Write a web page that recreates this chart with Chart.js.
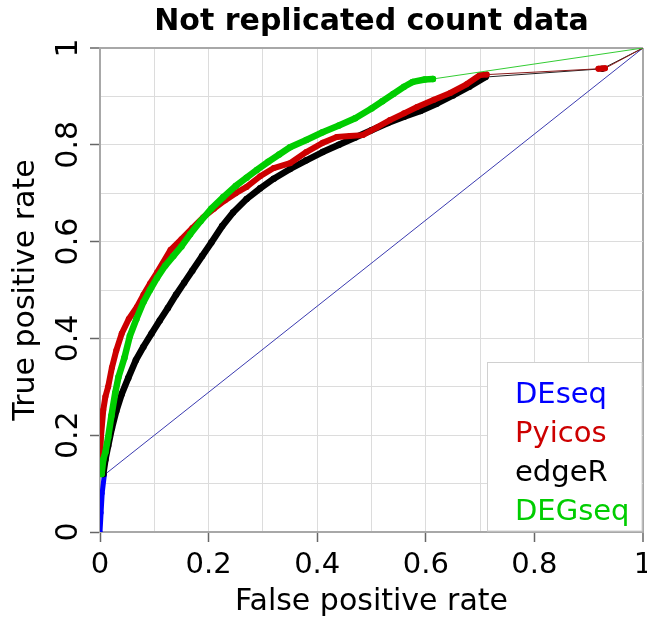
<!DOCTYPE html>
<html>
<head>
<meta charset="utf-8">
<script src="https://cdn.jsdelivr.net/npm/chart.js@4.4.0/dist/chart.umd.min.js"></script>
<style>
  html, body { margin: 0; padding: 0; background: #fff; }
  canvas { display: block; }
</style>
</head>
<body>
<canvas id="rocChart" width="647" height="626"></canvas>
<script>
// ROC curves, values (FPR on x, TPR on y)
const methods = ['DEseq', 'Pyicos', 'edgeR', 'DEGseq'];
const methodColors = ['#0000ff', '#cd0000', '#000000', '#00cd00'];

const deseqFpr = [0, 0.002, 0.004, 0.008, 1];
const deseqTpr = [0, 0.04, 0.08, 0.118, 1];

const edgerFpr = [0.006, 0.01, 0.015, 0.022, 0.03, 0.04, 0.052, 0.066, 0.08, 0.095, 0.11, 0.125, 0.14, 0.155, 0.17, 0.188, 0.205, 0.225, 0.245, 0.27, 0.295, 0.32, 0.35, 0.38, 0.41, 0.44, 0.47, 0.5, 0.53, 0.56, 0.59, 0.62, 0.65, 0.68, 0.71, 0.925, 1];
const edgerTpr = [0.12, 0.15, 0.178, 0.215, 0.25, 0.285, 0.318, 0.355, 0.383, 0.41, 0.437, 0.463, 0.49, 0.515, 0.54, 0.57, 0.598, 0.632, 0.66, 0.688, 0.71, 0.73, 0.75, 0.768, 0.785, 0.8, 0.815, 0.83, 0.845, 0.858, 0.87, 0.885, 0.902, 0.92, 0.94, 0.957, 1];

const pyicosFpr = [0, 0.002, 0.006, 0.01, 0.015, 0.022, 0.03, 0.04, 0.053, 0.068, 0.08, 0.092, 0.105, 0.13, 0.15, 0.17, 0.19, 0.21, 0.23, 0.25, 0.27, 0.295, 0.32, 0.35, 0.38, 0.41, 0.436, 0.46, 0.484, 0.51, 0.534, 0.56, 0.584, 0.615, 0.645, 0.675, 0.7, 0.712, 0.918, 0.93, 1];
const pyicosTpr = [0.15, 0.2, 0.252, 0.28, 0.3, 0.34, 0.375, 0.41, 0.44, 0.465, 0.49, 0.513, 0.536, 0.583, 0.605, 0.628, 0.65, 0.668, 0.685, 0.7, 0.713, 0.735, 0.752, 0.762, 0.785, 0.804, 0.816, 0.818, 0.82, 0.836, 0.851, 0.865, 0.878, 0.893, 0.907, 0.925, 0.944, 0.945, 0.957, 0.958, 1];

const degseqFpr = [0.003, 0.006, 0.01, 0.015, 0.021, 0.028, 0.034, 0.045, 0.055, 0.067, 0.08, 0.092, 0.105, 0.12, 0.135, 0.15, 0.166, 0.185, 0.205, 0.227, 0.25, 0.27, 0.289, 0.31, 0.33, 0.35, 0.38, 0.41, 0.44, 0.47, 0.5, 0.52, 0.54, 0.56, 0.576, 0.598, 0.613, 1];
const degseqTpr = [0.12, 0.15, 0.165, 0.196, 0.24, 0.287, 0.32, 0.36, 0.405, 0.44, 0.475, 0.5, 0.525, 0.55, 0.57, 0.59, 0.615, 0.642, 0.668, 0.692, 0.715, 0.732, 0.748, 0.765, 0.78, 0.795, 0.81, 0.826, 0.84, 0.855, 0.875, 0.89, 0.905, 0.92, 0.93, 0.935, 0.936, 1];

const tickLabels = ['0', '0.2', '0.4', '0.6', '0.8', '1'];

const FONT = 'DejaVu Sans';
const gridLight = '#dcdcdc';
const frameGray = '#a8a8a8';

function toPoints(xs, ys) {
    return xs.map((x, i) => ({ x: x, y: ys[i] }));
}

function makeSet(name, xs, ys, thick, thin, thinColor) {
    const color = methodColors[methods.indexOf(name)];
    const isLong = ctx => Math.hypot(ctx.p1.x - ctx.p0.x, ctx.p1.y - ctx.p0.y) > 40;
    return {
        label: name,
        data: toPoints(xs, ys),
        showLine: true,
        borderColor: color,
        backgroundColor: color,
        borderWidth: thick,
        borderCapStyle: 'round',
        borderJoinStyle: 'round',
        pointRadius: ctx => (ctx.raw && ctx.raw.x === 1) ? 0 : thick / 2,
        pointBorderWidth: 0,
        pointHoverRadius: 0,
        segment: {
            // long jumps between far-apart points are just thin connectors in the original
            borderWidth: ctx => isLong(ctx) ? thin : thick,
            borderColor: ctx => isLong(ctx) ? thinColor : color
        }
    };
}

// tick marks only every 0.2, grid every 0.1, frame on value 1
function isMajor(v) { return Math.round(v * 10) % 2 === 0; }
const gridOpts = {
    color: ctx => ctx.tick && ctx.tick.value === 1 ? frameGray : gridLight,
    lineWidth: ctx => ctx.tick && ctx.tick.value === 1 ? 2 : 1,
    tickLength: 10,
    tickWidth: 1.5,
    tickColor: ctx => ctx.tick && isMajor(ctx.tick.value) ? '#666' : 'rgba(0,0,0,0)'
};

// y tick labels are rotated in the original, chart.js won't rotate y labels so draw them here
const rotatedYTicks = {
    id: 'rotatedYTicks',
    afterDraw(chart) {
        const ctx = chart.ctx;
        const y = chart.scales.y;
        ctx.save();
        ctx.font = '30px "' + FONT + '"';
        ctx.fillStyle = '#000';
        ctx.textAlign = 'center';
        ctx.textBaseline = 'alphabetic';
        tickLabels.forEach(lbl => {
            ctx.save();
            ctx.translate(77, y.getPixelForValue(parseFloat(lbl)));
            ctx.rotate(-Math.PI / 2);
            ctx.fillText(lbl, 0, 0);
            ctx.restore();
        });
        ctx.restore();
    }
};

// legend box in the bottom right corner, coloured text only
const cornerLegend = {
    id: 'cornerLegend',
    afterDatasetsDraw(chart) {
        const ctx = chart.ctx;
        const area = chart.chartArea;
        const left = area.right - 156, top = area.bottom - 170;
        ctx.save();
        ctx.fillStyle = '#fff';
        ctx.fillRect(left, top, area.right - 1 - left, area.bottom - 1 - top);
        ctx.strokeStyle = '#d0d0d0';
        ctx.lineWidth = 1;
        ctx.strokeRect(left + 0.5, top + 0.5, area.right - 1.5 - left, area.bottom - 1.5 - top);
        ctx.font = '29px "' + FONT + '"';
        ctx.textBaseline = 'alphabetic';
        ctx.textAlign = 'left';
        methods.forEach((m, i) => {
            ctx.fillStyle = methodColors[i];
            ctx.fillText(m, left + 28, top + 41 + i * 39);
        });
        ctx.restore();
    }
};

document.addEventListener('DOMContentLoaded', function() {
    const ctx = document.getElementById('rocChart').getContext('2d');
    new Chart(ctx, {
        type: 'scatter',
        data: {
            datasets: [
                makeSet('DEGseq', degseqFpr, degseqTpr, 6.5, 1, '#33cc33'),   // first one ends up on top
                makeSet('Pyicos', pyicosFpr, pyicosTpr, 6, 1, '#8a1a1a'),
                makeSet('edgeR', edgerFpr, edgerTpr, 6.5, 1, '#222'),
                makeSet('DEseq', deseqFpr, deseqTpr, 5, 1, '#3b3bb0')
            ]
        },
        options: {
            responsive: false,
            devicePixelRatio: 1,
            animation: false,
            layout: { padding: { top: 0, right: 4, left: 0, bottom: 0 } },
            plugins: {
                legend: { display: false },
                tooltip: { enabled: false },
                title: {
                    display: true,
                    fullSize: false,
                    text: 'Not replicated count data',
                    color: '#000',
                    font: { family: FONT, size: 30, weight: 'bold' },
                    padding: { top: 4, bottom: 8 }
                }
            },
            scales: {
                x: {
                    type: 'linear',
                    min: 0,
                    max: 1,
                    ticks: {
                        stepSize: 0.1,
                        autoSkip: false,
                        maxRotation: 0,
                        padding: 6,
                        color: '#000',
                        font: { family: FONT, size: 29 },
                        callback: v => isMajor(v) ? tickLabels[Math.round(v * 5)] : ''
                    },
                    grid: gridOpts,
                    border: { display: true, color: frameGray, width: 2 },
                    title: {
                        display: true,
                        text: 'False positive rate',
                        color: '#000',
                        font: { family: FONT, size: 30 },
                        padding: { top: 0, bottom: 6 }
                    },
                    afterFit: s => {
                        s.height = 94;
                        s.paddingLeft = 0;   // let the "1" hang off the edge like the original
                        s.paddingRight = 0;
                    }
                },
                y: {
                    type: 'linear',
                    min: 0,
                    max: 1,
                    ticks: {
                        stepSize: 0.1,
                        autoSkip: false,
                        padding: 0,
                        callback: () => ''
                    },
                    grid: gridOpts,
                    border: { display: true, color: frameGray, width: 2 },
                    title: {
                        display: true,
                        text: 'True positive rate',
                        color: '#000',
                        font: { family: FONT, size: 30 },
                        padding: { top: 8, bottom: 0 }
                    },
                    afterFit: s => {
                        s.width = 100;
                        s.paddingTop = 0;
                        s.paddingBottom = 0;
                    }
                }
            }
        },
        plugins: [cornerLegend, rotatedYTicks]
    });
});
</script>
</body>
</html>
